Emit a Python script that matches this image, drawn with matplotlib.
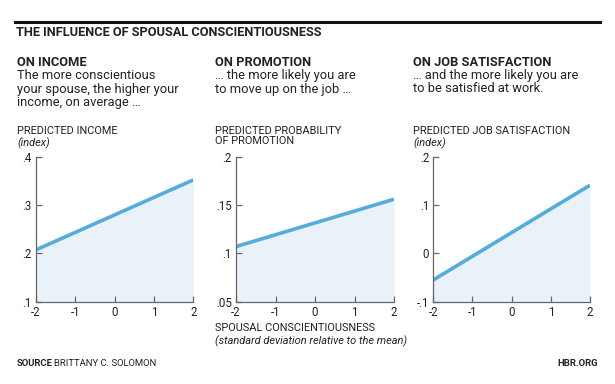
import matplotlib
matplotlib.use("Agg")
import matplotlib.pyplot as plt

# data
x_vals = [-2, 2]
income = [0.207, 0.352]
promotion = [0.107, 0.156]
satisfaction = [-0.055, 0.141]

x_ticks = [-2, -1, 0, 1, 2]
x_ticklabels = ["-2", "-1", "0", "1", "2"]

panels = [
    dict(y=income, ylim=(0.1, 0.4), yticks=[0.1, 0.2, 0.3, 0.4],
         yticklabels=[".1", ".2", ".3", ".4"],
         head="ON INCOME",
         body="The more conscientious\nyour spouse, the higher your\nincome, on average \u2026",
         ylab="PREDICTED INCOME", ylab2="(index)"),
    dict(y=promotion, ylim=(0.05, 0.2), yticks=[0.05, 0.1, 0.15, 0.2],
         yticklabels=[".05", ".1", ".15", ".2"],
         head="ON PROMOTION",
         body="\u2026 the more likely you are\nto move up on the job \u2026",
         ylab="PREDICTED PROBABILITY\nOF PROMOTION", ylab2=None),
    dict(y=satisfaction, ylim=(-0.1, 0.2), yticks=[-0.1, 0, 0.1, 0.2],
         yticklabels=["-.1", "0", ".1", ".2"],
         head="ON JOB SATISFACTION",
         body="\u2026 and the more likely you are\nto be satisfied at work.",
         ylab="PREDICTED JOB SATISFACTION", ylab2="(index)"),
]

plt.rcParams['font.family'] = ['Roboto', 'DejaVu Sans']

LINE = "#55abda"
FILL = "#eaf2f9"
AXC = "#666666"
TXT = "#222222"

fig = plt.figure(figsize=(6.15, 3.84), dpi=100)
W, H = 615, 384


def fx(px):
    return px / W


def fy(py):
    return 1 - py / H


# top rule and title
fig.add_artist(plt.Line2D([fx(15), fx(600)], [fy(22), fy(22)], color="#111111", lw=2.2))
fig.text(fx(16), fy(33), "THE INFLUENCE OF SPOUSAL CONSCIENTIOUSNESS",
         fontsize=9.2, fontweight="bold", color=TXT, va="center")

ax_lefts = [35.7, 236, 433.3]
ax_rights = [193.3, 394, 590]
text_x = [17, 215, 413]
ax_top, ax_bot = 156.7, 301.7

for i, p in enumerate(panels):
    l, r = ax_lefts[i], ax_rights[i]
    ax = fig.add_axes([fx(l), fy(ax_bot), fx(r - l), (ax_bot - ax_top) / H])
    ax.fill_between(x_vals, p["y"], p["ylim"][0], color=FILL, lw=0)
    ax.plot(x_vals, p["y"], color=LINE, lw=2.6, solid_capstyle="butt")
    ax.set_xlim(-2, 2)
    ax.set_ylim(*p["ylim"])
    ax.set_xticks(x_ticks)
    ax.set_xticklabels(x_ticklabels)
    ax.set_yticks(p["yticks"])
    ax.set_yticklabels(p["yticklabels"])
    for s in ["top", "right"]:
        ax.spines[s].set_visible(False)
    for s in ["left", "bottom"]:
        ax.spines[s].set_color(AXC)
        ax.spines[s].set_linewidth(0.9)
    ax.tick_params(direction="in", length=4, width=0.9, color=AXC,
                   labelsize=8.3, labelcolor=TXT, pad=3)
    ax.patch.set_alpha(0)

    # headings
    tx = fx(text_x[i])
    fig.text(tx, fy(62), p["head"], fontsize=9.3, fontweight="bold", color=TXT, va="center")
    fig.text(tx, fy(69), p["body"], fontsize=9.3, color=TXT, va="top", linespacing=1.05)
    fig.text(tx, fy(126), p["ylab"], fontsize=7.9, color=TXT, va="top", linespacing=0.95)
    if p["ylab2"]:
        fig.text(tx, fy(137.5), p["ylab2"], fontsize=7.9, color=TXT, va="top", style="italic")

fig.text(fx(215), fy(328), "SPOUSAL CONSCIENTIOUSNESS", fontsize=7.9, color=TXT, va="center")
fig.text(fx(215), fy(341), "(standard deviation relative to the mean)", fontsize=7.9,
         color=TXT, va="center", style="italic")

fig.text(fx(17), fy(364), "SOURCE", fontsize=6.8, fontweight="bold", color=TXT, va="center")
fig.text(fx(54), fy(364), "BRITTANY C. SOLOMON", fontsize=6.8, color=TXT, va="center")
fig.text(fx(598), fy(364), "HBR.ORG", fontsize=6.8, fontweight="bold", color=TXT,
         va="center", ha="right")

fig.savefig("out.png", dpi=100, facecolor="white")
